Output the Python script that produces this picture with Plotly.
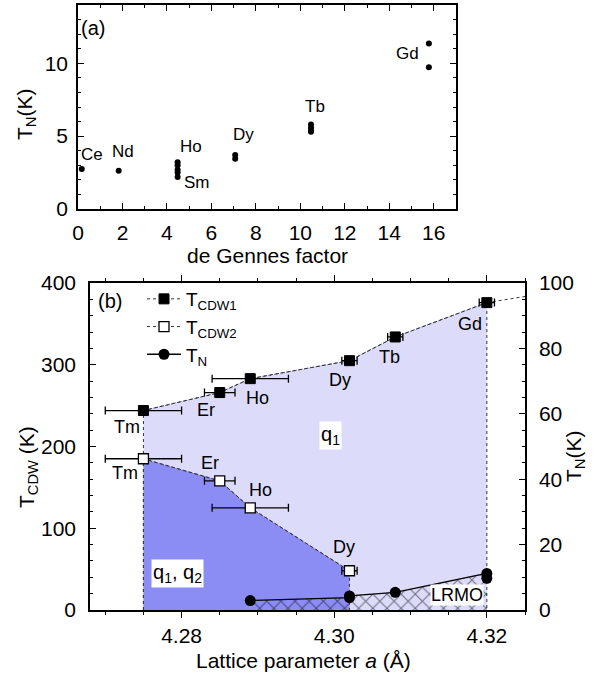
import plotly.graph_objects as go

# ---------------- Panel (a) data ----------------
a_ce_x = [0.17]; a_ce_y = [2.74]
a_nd_x = [1.83]; a_nd_y = [2.62]
a_hosm_x = [4.48, 4.48, 4.48, 4.48, 4.48]; a_hosm_y = [3.2, 3.0, 2.7, 2.5, 2.2]
a_dy_x = [7.07, 7.07]; a_dy_y = [3.7, 3.45]
a_tb_x = [10.48, 10.48, 10.48, 10.48]; a_tb_y = [5.8, 5.6, 5.4, 5.3]
a_gd_x = [15.78, 15.78]; a_gd_y = [11.35, 9.72]

a_lab_text = ["Ce", "Nd", "Ho", "Sm", "Dy", "Tb", "Gd"]
a_lab_x = [0.64, 2.03, 5.1, 5.33, 7.43, 10.66, 14.82]
a_lab_y = [3.77, 3.93, 4.27, 1.8, 5.08, 7.02, 10.69]

# ---------------- Panel (b) data ----------------
cdw1_x = [4.275, 4.285, 4.289, 4.302, 4.308, 4.320]
cdw1_y = [244, 266, 283, 305, 334, 376]
cdw1_err = [0.005, 0.002, 0.005, 0.001, 0.001, 0.001]
cdw1_ext_x = [4.320, 4.326]
cdw1_ext_y = [376, 385]

cdw2_x = [4.275, 4.285, 4.289, 4.302]
cdw2_y = [185, 158, 125, 48]
cdw2_err = [0.005, 0.002, 0.005, 0.001]

tn_x = [4.289, 4.302, 4.302, 4.308, 4.320, 4.320]
tn_y = [2.9, 3.8, 4.3, 5.4, 11.2, 9.7]

b_lab_text = ["Tm", "Er", "Ho", "Dy", "Tb", "Gd", "Tm", "Er", "Ho", "Dy"]
b_lab_x = [4.2728, 4.2832, 4.2899, 4.3007, 4.3073, 4.3178, 4.2726, 4.2837, 4.2903, 4.3013]
b_lab_y = [224, 245, 259, 281, 309, 350, 168, 180, 147, 77]

LIGHT = "rgb(220,220,250)"
DARK = "rgb(140,140,245)"
DOT = "#333344"
FONT = "Liberation Sans, Arial, sans-serif"

W, H = 602, 675


def px(xp):
    return xp / W


def py(yp):
    return 1 - yp / H


fig = go.Figure()

# ---- panel (a) scatter ----
for xs, ys in [(a_ce_x, a_ce_y), (a_nd_x, a_nd_y), (a_hosm_x, a_hosm_y),
               (a_dy_x, a_dy_y), (a_tb_x, a_tb_y), (a_gd_x, a_gd_y)]:
    fig.add_trace(go.Scatter(x=xs, y=ys, mode="markers", xaxis="x", yaxis="y",
                             marker=dict(color="black", size=6), showlegend=False,
                             hoverinfo="skip"))

# ---- panel (b) fills ----
fig.add_trace(go.Scatter(
    x=[cdw1_x[0]] + cdw1_x + [cdw1_x[-1]],
    y=[0] + cdw1_y + [0],
    mode="lines", fill="toself", fillcolor=LIGHT,
    line=dict(color=DOT, width=1, dash="dot"),
    xaxis="x2", yaxis="y2", showlegend=False, hoverinfo="skip"))
fig.add_trace(go.Scatter(
    x=[cdw2_x[0]] + cdw2_x + [cdw2_x[-1]],
    y=[0] + cdw2_y + [0],
    mode="lines", fill="toself", fillcolor=DARK,
    line=dict(color=DOT, width=1, dash="dot"),
    xaxis="x2", yaxis="y2", showlegend=False, hoverinfo="skip"))
# hatch LRMO region
fig.add_trace(go.Scatter(
    x=tn_x, y=tn_y, mode="none", fill="tozeroy", fillcolor="rgba(0,0,0,0)",
    fillpattern=dict(shape="x", fgcolor="black", bgcolor="rgba(0,0,0,0)",
                     size=10, solidity=0.2),
    xaxis="x2", yaxis="y3", showlegend=False, hoverinfo="skip"))
# extension of CDW1 line
fig.add_trace(go.Scatter(x=cdw1_ext_x, y=cdw1_ext_y, mode="lines",
                         line=dict(color=DOT, width=1, dash="dot"),
                         xaxis="x2", yaxis="y2", showlegend=False, hoverinfo="skip"))

# ---- CDW series ----
fig.add_trace(go.Scatter(
    x=cdw1_x, y=cdw1_y, mode="lines+markers", name="T<sub>CDW1</sub>",
    line=dict(color=DOT, width=1, dash="dot"),
    marker=dict(symbol="square", color="black", size=10, line=dict(color="black", width=1)),
    error_x=dict(type="data", array=cdw1_err, color="black", thickness=1.3, width=4),
    xaxis="x2", yaxis="y2"))
fig.add_trace(go.Scatter(
    x=cdw2_x, y=cdw2_y, mode="lines+markers", name="T<sub>CDW2</sub>",
    line=dict(color=DOT, width=1, dash="dot"),
    marker=dict(symbol="square", color="white", size=10, line=dict(color="black", width=1.3)),
    error_x=dict(type="data", array=cdw2_err, color="black", thickness=1.3, width=4),
    xaxis="x2", yaxis="y2"))
fig.add_trace(go.Scatter(
    x=tn_x, y=tn_y, mode="lines+markers", name="T<sub>N</sub>",
    line=dict(color="black", width=1.3),
    marker=dict(symbol="circle", color="black", size=11),
    xaxis="x2", yaxis="y3", cliponaxis=False))

annotations = []
for t, x, y in zip(a_lab_text, a_lab_x, a_lab_y):
    annotations.append(dict(text=t, x=x, y=y, xref="x", yref="y", showarrow=False,
                            xanchor="center", yanchor="middle",
                            font=dict(size=17, color="black")))
for t, x, y in zip(b_lab_text, b_lab_x, b_lab_y):
    annotations.append(dict(text=t, x=x, y=y, xref="x2", yref="y2", showarrow=False,
                            xanchor="center", yanchor="middle",
                            font=dict(size=18, color="black")))


def pann(text, xp, yp, size, angle=0):
    return dict(text=text, x=px(xp), y=py(yp), xref="paper", yref="paper",
                showarrow=False, xanchor="center", yanchor="middle",
                textangle=angle, font=dict(size=size))


annotations += [
    dict(text="q<sub>1</sub>", x=4.2995, y=214, xref="x2", yref="y2", showarrow=False,
         xanchor="center", yanchor="middle",
         bgcolor="white", font=dict(size=20), borderpad=1),
    dict(text="q<sub>1</sub>, q<sub>2</sub>", x=4.2794, y=45, xref="x2", yref="y2",
         xanchor="center", yanchor="middle",
         showarrow=False, bgcolor="white", font=dict(size=20), borderpad=1),
    dict(text="LRMO", x=4.3161, y=18, xref="x2", yref="y2", showarrow=False,
         xanchor="center", yanchor="middle",
         bgcolor="white", font=dict(size=18), borderpad=0),
    pann("(a)", 93, 28, 20),
    pann("(b)", 110, 301, 20),
    pann("de Gennes factor", 267, 255, 21),
    pann("T<sub>N</sub>(K)", 26, 115, 21, -90),
    pann("Lattice parameter <i>a</i> (Å)", 303, 660, 21),
    pann("T<sub>CDW</sub> (K)", 28, 467, 21, -90),
    pann("T<sub>N</sub>(K)", 575, 457, 21, -90),
]

axis_common = dict(showline=True, linecolor="black", linewidth=1.5, showgrid=False,
                   zeroline=False, tickcolor="black", tickwidth=1.3, automargin=False,
                   tickfont=dict(size=21, color="black"))

fig.update_layout(
    width=W, height=H,
    margin=dict(l=0, r=0, t=0, b=0),
    paper_bgcolor="white", plot_bgcolor="rgba(0,0,0,0)",
    font=dict(family=FONT, color="black"),
    xaxis=dict(domain=[px(78), px(456)], range=[0, 17], dtick=2, tick0=0,
               ticks="inside", ticklen=6, mirror="ticks", anchor="y",
               minor=dict(dtick=1, ticklen=3, ticks="inside", tickcolor="black"),
               ticklabelstandoff=4, **axis_common),
    yaxis=dict(domain=[py(209), py(5)], range=[0, 14], dtick=5, tick0=0,
               ticks="inside", ticklen=6, mirror="ticks", anchor="x",
               minor=dict(dtick=1, ticklen=3, ticks="inside", tickcolor="black"),
               ticklabelstandoff=4, **axis_common),
    xaxis2=dict(domain=[px(90), px(525)], range=[4.268, 4.325], dtick=0.02, tick0=4.28,
                tickformat=".2f", ticks="outside", ticklen=6, mirror="ticks", anchor="y2",
                minor=dict(dtick=0.005, tick0=4.28, ticklen=3, ticks="outside", tickcolor="black"),
                ticklabelstandoff=0, **axis_common),
    yaxis2=dict(domain=[py(610), py(283)], range=[0, 400], dtick=100, tick0=0,
                ticks="inside", ticklen=6, anchor="x2",
                minor=dict(dtick=20, ticklen=3, ticks="inside", tickcolor="black"),
                ticklabelstandoff=8, **axis_common),
    yaxis3=dict(domain=[py(610), py(283)], range=[0, 100], dtick=20, tick0=0,
                overlaying="y2", side="right", anchor="x2",
                ticks="inside", ticklen=6,
                minor=dict(dtick=5, ticklen=3, ticks="inside", tickcolor="black"),
                ticklabelstandoff=8, **axis_common),
    legend=dict(x=px(142), y=py(280), xanchor="left", yanchor="top",
                bgcolor="rgba(0,0,0,0)", font=dict(size=19), tracegroupgap=0,
                itemwidth=34),
    annotations=annotations,
)

fig.write_html("out.html", config={"displayModeBar": False},
               post_script="document.body.style.margin='0';document.body.style.padding='0';")
